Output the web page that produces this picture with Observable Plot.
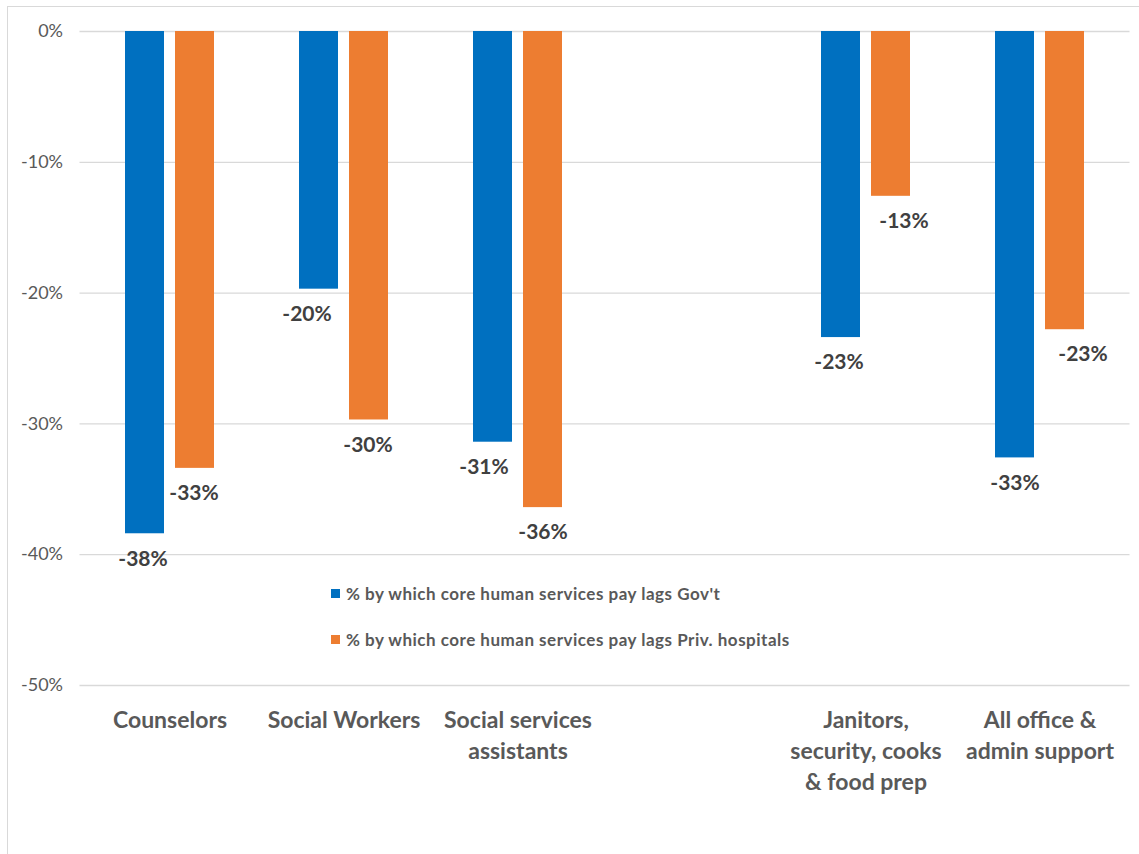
<!DOCTYPE html>
<html>
<head>
<meta charset="utf-8">
<script src="https://cdn.jsdelivr.net/npm/d3@7"></script>
<script src="https://cdn.jsdelivr.net/npm/@observablehq/plot@0.6"></script>
<style>
  html, body { margin: 0; padding: 0; background: #fff; overflow: hidden; }
  #wrap { position: relative; width: 1139px; height: 854px; font-family: Lato, "Open Sans", sans-serif; }
  #frame { position: absolute; left: 7px; top: 6px; width: 1150px; height: 870px; border: 1.5px solid #d9d9d9; box-sizing: border-box; }
  #chart { position: absolute; left: 0; top: 0; }
  .leg { position: absolute; left: 331px; display: flex; align-items: center; font-size: 17px; letter-spacing: 0.5px; font-weight: bold; color: #595959; white-space: nowrap; }
  .leg .sw { width: 9px; height: 9px; margin-right: 6px; }
</style>
</head>
<body>
<div id="wrap">
  <div id="frame"></div>
  <div id="chart"></div>
</div>
<script>
// ---- data ----
const categories = ["Counselors", "Social Workers", "Social services assistants", "(gap)", "Janitors, security, cooks & food prep", "All office & admin support"];
const categoryLabels = ["Counselors", "Social Workers", "Social services\nassistants", "", "Janitors,\nsecurity, cooks\n& food prep", "All office &\nadmin support"];
const govLag = [-38.4, -19.7, -31.4, null, -23.4, -32.6];
const privLag = [-33.4, -29.7, -36.4, null, -12.6, -22.8];
const seriesNames = ["% by which core human services pay lags Gov't", "% by which core human services pay lags Priv. hospitals"];
const seriesColors = ["#0070C0", "#ED7D31"];
const yTicks = [0, -10, -20, -30, -40, -50];
// small manual label nudges (px), as in the original
const govLabelNudge = [-2, -12, -9, 0, -2, 0];
const privLabelNudge = [-1, -1, 0, 0, 13, 18];

const govRows = categories.map((c, i) => ({cat: c, value: govLag[i], nudge: govLabelNudge[i]})).filter(d => d.value != null);
const privRows = categories.map((c, i) => ({cat: c, value: privLag[i], nudge: privLabelNudge[i]})).filter(d => d.value != null);
const labelRows = categories.map((c, i) => ({cat: c, label: categoryLabels[i]})).filter(d => d.label);
const pct = v => `${Math.round(v)}%`;

const chart = Plot.plot({
  width: 1139,
  height: 854,
  marginTop: 31,
  marginBottom: 169,
  marginLeft: 79.5,
  marginRight: 9.5,
  style: {fontFamily: "Lato, 'Open Sans', sans-serif", fontSize: "18px", color: "#595959", background: "transparent", overflow: "visible"},
  x: {domain: categories, paddingInner: 0.491, paddingOuter: 0.2457, axis: null},
  y: {domain: [-50, 0], ticks: yTicks, tickFormat: d => `${d}%`, tickSize: 0, tickPadding: 17, label: null},
  marks: [
    Plot.ruleY(yTicks, {stroke: "#d9d9d9", strokeWidth: 1.3}),
    Plot.barY(govRows, {x: "cat", y1: 0, y2: "value", fill: seriesColors[0], insetRight: 50}),
    Plot.barY(privRows, {x: "cat", y1: 0, y2: "value", fill: seriesColors[1], insetLeft: 50}),
    Plot.text(govRows, {x: "cat", y: "value", text: d => pct(d.value), dx: -25, dy: 25, lineAnchor: "middle", fontSize: 21, fontWeight: "bold", fill: "#404040"}),
    Plot.text(privRows, {x: "cat", y: "value", text: d => pct(d.value), dx: 25, dy: 25, lineAnchor: "middle", fontSize: 21, fontWeight: "bold", fill: "#404040"}),
    Plot.text(labelRows, {x: "cat", text: "label", frameAnchor: "bottom", lineAnchor: "top", dy: 20, lineHeight: 1.35, fontSize: 23, fontWeight: "bold", fill: "#595959"})
  ]
});

// apply per-label nudges
chart.querySelectorAll("g[aria-label='text']").forEach((g, gi) => {
  const rows = gi === 0 ? govRows : gi === 1 ? privRows : null;
  if (!rows) return;
  g.querySelectorAll("text").forEach((t, i) => {
    const n = rows[i] ? rows[i].nudge : 0;
    if (n) {
      const tr = t.getAttribute("transform") || "";
      t.setAttribute("transform", tr + ` translate(${n},0)`);
    }
  });
});

document.getElementById("chart").appendChild(chart);

// legend (inside plot area)
const legendTops = [593, 639];
seriesNames.forEach((name, i) => {
  const item = document.createElement("div");
  item.className = "leg";
  item.style.top = (legendTops[i] - 10) + "px";
  item.style.height = "20px";
  const sw = document.createElement("span");
  sw.className = "sw";
  sw.style.background = seriesColors[i];
  const tx = document.createElement("span");
  tx.textContent = name;
  item.appendChild(sw);
  item.appendChild(tx);
  document.getElementById("wrap").appendChild(item);
});
</script>
</body>
</html>
